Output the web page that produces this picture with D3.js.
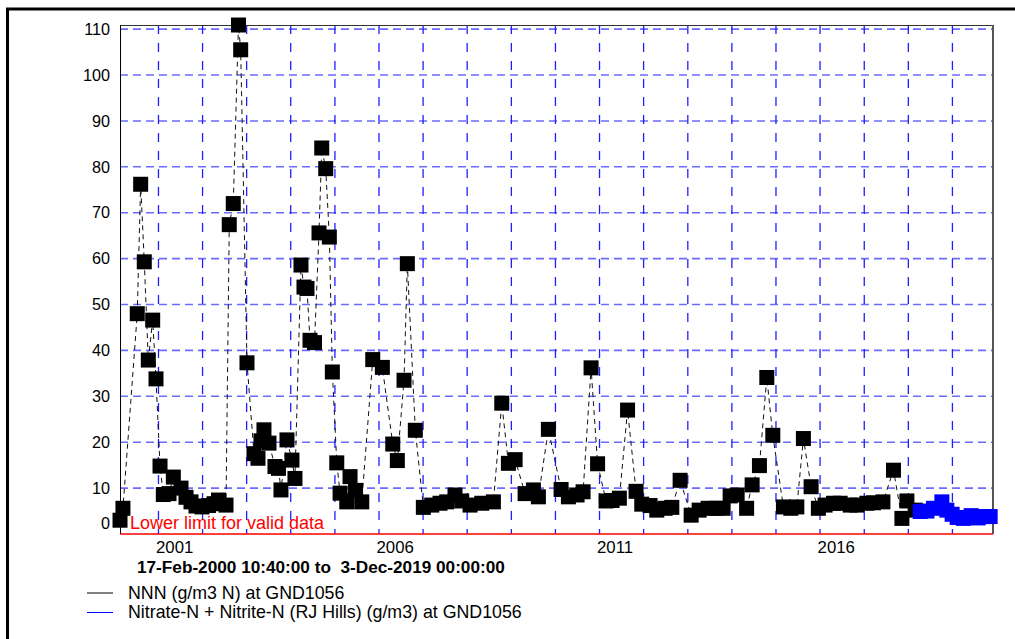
<!DOCTYPE html>
<html><head><meta charset="utf-8">
<script src="https://cdn.jsdelivr.net/npm/d3@7"></script>
<style>
body{margin:0;background:#fff;}
svg{display:block;font-family:"Liberation Sans",Arial,sans-serif;}
</style></head>
<body><svg id="c" width="1015" height="639"></svg>
<script>
// NNN (g/m3 N) at GND1056 — sample times as decimal years, values in g/m3
const nnnYears = [2000.130,2000.196,2000.520,2000.597,2000.679,2000.770,2000.869,2000.944,2001.035,2001.110,
 2001.239,2001.337,2001.511,2001.625,2001.738,2001.851,2001.987,2002.135,2002.260,2002.362,
 2002.532,2002.606,2002.697,2002.815,2002.865,2003.008,2003.167,2003.257,2003.325,2003.393,
 2003.507,2003.643,2003.722,2003.779,2003.915,2004.028,2004.096,2004.232,2004.300,2004.368,
 2004.436,2004.538,2004.640,2004.702,2004.792,2004.874,2004.942,2005.042,2005.117,2005.269,
 2005.343,2005.468,2005.609,2005.858,2006.076,2006.312,2006.416,2006.568,2006.643,2006.824,
 2007.006,2007.196,2007.384,2007.536,2007.724,2007.876,2008.065,2008.330,2008.593,2008.783,
 2008.933,2009.085,2009.312,2009.500,2009.613,2009.840,2010.128,2010.294,2010.491,2010.627,
 2010.808,2010.956,2011.148,2011.284,2011.450,2011.636,2011.829,2011.958,2012.146,2012.298,
 2012.486,2012.638,2012.826,2013.076,2013.257,2013.461,2013.643,2013.801,2013.960,2014.119,
 2014.334,2014.459,2014.625,2014.792,2014.928,2015.169,2015.337,2015.473,2015.622,2015.797,
 2015.962,2016.114,2016.303,2016.455,2016.681,2016.833,2017.060,2017.210,2017.423,2017.663,
 2017.854,2017.967,2018.155];
const nnnValues = [3.0,5.6,48.0,76.2,59.3,37.9,46.6,33.8,14.8,8.6,
 8.8,12.4,10.0,8.0,7.0,6.1,5.9,6.2,6.6,7.4,
 6.3,67.4,72.0,110.9,105.5,37.3,17.5,16.5,20.3,22.7,
 19.8,14.7,14.3,9.6,20.5,16.1,12.1,58.6,53.8,53.5,
 42.2,41.7,65.6,84.1,79.6,64.7,35.3,15.5,8.9,7.0,
 12.5,9.5,7.0,38.0,36.3,19.6,16.0,33.5,58.9,22.6,
 5.8,6.3,6.7,7.0,8.5,7.2,6.3,6.7,7.0,28.5,
 15.4,16.2,8.8,9.6,8.1,22.8,9.7,8.1,8.5,9.2,
 36.2,15.3,7.2,7.3,7.8,27.0,9.3,6.5,6.2,5.2,
 5.6,5.8,11.7,4.1,5.2,5.6,5.6,5.6,8.3,8.5,
 5.6,10.7,14.9,34.1,21.5,5.9,5.6,5.9,20.8,10.3,
 5.6,6.3,6.7,6.7,6.3,6.3,6.7,6.8,7.0,13.9,
 3.4,7.2,5.2];
// Nitrate-N + Nitrite-N (RJ Hills) (g/m3) at GND1056
const rjYears = [2018.269,2018.421,2018.570,2018.761,2018.874,2018.994,2019.108,2019.250,2019.425,2019.584,2019.743,2019.856];
const rjValues = [4.9,5.0,5.6,7.0,5.2,4.3,3.6,3.4,4.0,3.5,3.8,3.8];

const yTicks = [0,10,20,30,40,50,60,70,80,90,100,110];
const xLabelYears = [2001,2006,2011,2016];
const gridYears = d3.range(2001,2020);
const titleText = "17-Feb-2000 10:40:00 to\u00a0\u00a03-Dec-2019 00:00:00";
const legendItems = [
  {label:"NNN (g/m3 N) at GND1056", color:"#000"},
  {label:"Nitrate-N + Nitrite-N (RJ Hills) (g/m3) at GND1056", color:"#0000ff"}
];
const limitLabel = "Lower limit for valid data";

function dec2date(t){
  const y = Math.floor(t);
  const a = Date.UTC(y,0,1), b = Date.UTC(y+1,0,1);
  return new Date(a + (t-y)*(b-a));
}

const svg = d3.select("#c");
const L=120, R=993, T=25, B=534;

svg.append("rect").attr("width",1015).attr("height",639).attr("fill","#fff");
// outer frame
svg.append("path").attr("d","M7.5,1000 L7.5,9 L1100,9").attr("fill","none").attr("stroke","#000").attr("stroke-width",3);

const x = d3.scaleUtc().domain([new Date(Date.UTC(2000,1,17,10,40)), new Date(Date.UTC(2019,11,3))]).range([L,R]);
const y = d3.scaleLinear().domain([0,110.9]).range([B,T]);

// gridlines
const g = svg.append("g");
g.selectAll("line.h").data(yTicks.filter(d=>d>0)).join("line")
  .attr("x1",L).attr("x2",R).attr("y1",d=>y(d)).attr("y2",d=>y(d))
  .attr("stroke","#6b6bff").attr("stroke-width",1.6).attr("stroke-dasharray","8,5");
g.selectAll("line.v").data(gridYears).join("line")
  .attr("x1",d=>x(new Date(Date.UTC(d,0,1)))).attr("x2",d=>x(new Date(Date.UTC(d,0,1))))
  .attr("y1",T).attr("y2",B)
  .attr("stroke","#1f1fff").attr("stroke-width",1.3).attr("stroke-dasharray","9,9");

// plot border
svg.append("line").attr("x1",L).attr("x2",R).attr("y1",T+0.5).attr("y2",T+0.5).attr("stroke","#333").attr("stroke-width",1);
svg.append("line").attr("x1",R).attr("x2",R).attr("y1",T).attr("y2",B).attr("stroke","#555").attr("stroke-width",2);
svg.append("line").attr("x1",L+0.5).attr("x2",L+0.5).attr("y1",T).attr("y2",B).attr("stroke","#000").attr("stroke-width",1);

// y axis
const ya = svg.append("g").attr("transform",`translate(${L},0)`)
  .call(d3.axisLeft(y).tickValues(yTicks).tickSize(0).tickPadding(10).tickFormat(d3.format("d")));
ya.select(".domain").remove();
ya.selectAll("text").attr("font-size",16.2).attr("font-family","Liberation Sans, Arial, sans-serif").attr("fill","#000")
  .attr("dy",d=>d===0?"-0.35em":"0.32em");

// x axis
const xa = svg.append("g").attr("transform",`translate(0,${B})`)
  .call(d3.axisBottom(x).tickValues(xLabelYears.map(v=>new Date(Date.UTC(v,0,1)))).tickSize(0).tickPadding(7).tickFormat(d3.utcFormat("%Y")));
xa.select(".domain").remove();
xa.selectAll("text").attr("font-size",16.8).attr("font-family","Liberation Sans, Arial, sans-serif").attr("fill","#000")
  .attr("text-anchor","start").attr("x",-3);

// lower limit line and label
svg.append("line").attr("x1",L).attr("x2",R).attr("y1",y(0)).attr("y2",y(0)).attr("stroke","#ff0000").attr("stroke-width",1.5);
svg.append("text").attr("x",130).attr("y",528.5).attr("font-size",18).attr("fill","#ff0000").text(limitLabel);

// data
const nnn = nnnYears.map((t,i)=>({d:dec2date(t), v:nnnValues[i]}));
const rj = rjYears.map((t,i)=>({d:dec2date(t), v:rjValues[i]}));
const line = d3.line().x(p=>x(p.d)).y(p=>y(p.v));
svg.append("path").datum(nnn).attr("d",line).attr("fill","none").attr("stroke","#111").attr("stroke-width",1).attr("stroke-dasharray","5,4");
svg.append("path").datum(rj).attr("d",line).attr("fill","none").attr("stroke","#0000ff").attr("stroke-width",1);
const S=15;
svg.append("g").selectAll("rect").data(nnn).join("rect")
  .attr("x",p=>x(p.d)-S/2).attr("y",p=>y(p.v)-S/2).attr("width",S).attr("height",S).attr("fill","#000");
svg.append("g").selectAll("rect").data(rj).join("rect")
  .attr("x",p=>x(p.d)-S/2).attr("y",p=>y(p.v)-S/2).attr("width",S).attr("height",S).attr("fill","#0000ff");

// title
svg.append("text").attr("x",137).attr("y",572.5).attr("font-size",17.2).attr("font-weight","bold").attr("fill","#000").text(titleText);

// legend
const lg = svg.append("g").selectAll("g").data(legendItems).join("g")
  .attr("transform",(d,i)=>`translate(0,${593+i*19.5})`);
lg.append("line").attr("x1",87).attr("x2",113).attr("y1",0).attr("y2",0).attr("stroke",d=>d.color).attr("stroke-width",1);
lg.append("text").attr("x",128).attr("y",5.5).attr("font-size",17.8).attr("fill","#000").text(d=>d.label);
</script></body></html>
